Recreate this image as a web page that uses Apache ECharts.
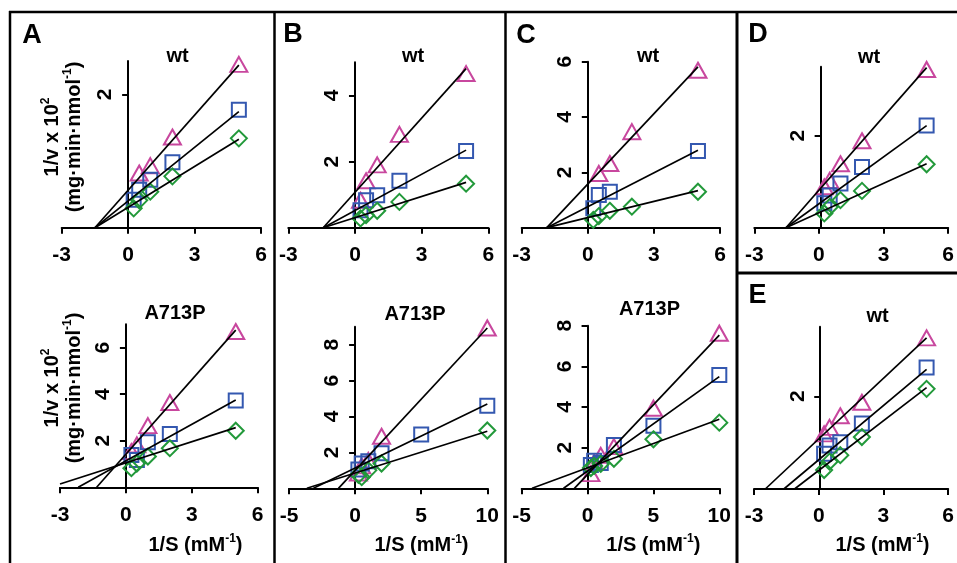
<!DOCTYPE html>
<html><head><meta charset="utf-8">
<script src="https://cdn.jsdelivr.net/npm/echarts@6/dist/echarts.min.js"></script>
<style>html,body{margin:0;padding:0;background:#fff}#c{width:957px;height:563px}</style>
</head><body><div id="c"></div>
<script>
// ---------------- data ----------------
const xShort = [0.25, 0.5, 1, 2, 5];
const xLong = [0.25, 0.5, 1, 2, 5, 10];

const aWtTri = [null, 0.82, 0.93, 1.36, 2.45];
const aWtSq  = [0.42, 0.57, 0.72, 0.98, 1.77];
const aWtDia = [0.29, 0.41, 0.54, 0.77, 1.34];
const aMutTri = [1.53, 1.82, 2.65, 3.64, 6.69];
const aMutSq  = [1.39, 1.17, 1.94, 2.29, 3.73];
const aMutDia = [0.82, 1.02, 1.32, 1.68, 2.43];

const bWtTri = [0.83, 1.42, 1.90, 2.82, 4.66];
const bWtSq  = [0.53, 0.83, 0.98, 1.42, 2.32];
const bWtDia = [0.28, 0.38, 0.51, 0.78, 1.33];
const bMutTri = [0.85, 1.25, 1.55, 2.90, null, 8.93];
const bMutSq  = [1.05, 1.38, 1.50, 1.95, 3.00, 4.60];
const bMutDia = [0.75, 0.62, 1.00, 1.38, null, 3.22];

const cWtTri = [null, 1.96, 2.32, 3.47, 5.69];
const cWtSq  = [0.70, 1.18, 1.30, null, 2.77];
const cWtDia = [0.28, 0.42, 0.61, 0.76, 1.30];
const cMutTri = [0.72, 1.28, 1.62, 2.05, 3.94, 7.63];
const cMutSq  = [1.15, 1.35, 1.25, 2.13, 3.08, 5.58];
const cMutDia = [1.00, 1.10, 1.20, 1.45, 2.41, 3.23];

const dWtTri = [0.89, 1.03, 1.39, 1.89, 3.44];
const dWtSq  = [0.53, 0.70, 0.96, 1.32, 2.22];
const dWtDia = [0.31, 0.45, 0.60, 0.80, 1.38];

const eWtTri = [1.19, 1.33, 1.58, 1.87, 3.26];
const eWtSq  = [0.76, 0.94, 1.01, 1.41, 2.62];
const eWtDia = [0.41, 0.59, 0.73, 1.12, 2.16];

// fitted lines [slope, intercept] for triangle, square, diamond series
const aWtFit  = [[0.375, 0.563], [0.268, 0.40], [0.204, 0.306]];
const aMutFit = [[1.066, 1.42], [0.523, 1.135], [0.3025, 1.05]];
const bWtFit  = [[0.748, 1.07], [0.365, 0.52], [0.213, 0.305]];
const bMutFit = [[0.793, 1.00], [0.357, 1.125], [0.233, 0.85]];
const cWtFit  = [[0.847, 1.575], [0.408, 0.76], [0.195, 0.363]];
const cMutFit = [[0.685, 0.685], [0.465, 0.847], [0.239, 1.007]];
const dWtFit  = [[0.533, 0.815], [0.34, 0.52], [0.213, 0.326]];
const eWtFit  = [[0.436, 1.08], [0.39, 0.63], [0.357, 0.40]];

// axis ticks
const xTicks6 = [-3, 0, 3, 6];
const xTicks10 = [-5, 0, 5, 10];
const yTicks2 = [2];
const yTicks4 = [2, 4];
const yTicks6 = [2, 4, 6];
const yTicks8 = [2, 4, 6, 8];
const yMaxA1 = 2.5, yMaxA2 = 7, yMaxB1 = 5, yMaxB2 = 9, yMaxC1 = 6, yMaxC2 = 8, yMaxD = 3.5, yMaxE = 3.5;

// ---------------- layout ----------------
const FONT = 'Liberation Sans';
const COLORS = ['#c8479e', '#3458b0', '#22993a'];
const SYMBOLS = ['triangle', 'rect', 'diamond'];
const SIZES = [[17, 15], [14, 14], [16, 16]];

const panels = [
  {x: xShort, ys: [aWtTri, aWtSq, aWtDia], fits: aWtFit, xt: xTicks6, yt: yTicks2, ymax: yMaxA1, g: [61.7, 61, 199.3, 166.7]},
  {x: xShort, ys: [aMutTri, aMutSq, aMutDia], fits: aMutFit, xt: xTicks6, yt: yTicks6, ymax: yMaxA2, g: [60, 324.3, 197.7, 163]},
  {x: xShort, ys: [bWtTri, bWtSq, bWtDia], fits: bWtFit, xt: xTicks6, yt: yTicks4, ymax: yMaxB1, g: [288.3, 62.3, 200, 165.4]},
  {x: xLong, ys: [bMutTri, bMutSq, bMutDia], fits: bMutFit, xt: xTicks10, yt: yTicks8, ymax: yMaxB2, g: [289, 326.7, 198.3, 161.6]},
  {x: xShort, ys: [cWtTri, cWtSq, cWtDia], fits: cWtFit, xt: xTicks6, yt: yTicks6, ymax: yMaxC1, g: [521.7, 61.7, 198.3, 166]},
  {x: xLong, ys: [cMutTri, cMutSq, cMutDia], fits: cMutFit, xt: xTicks10, yt: yTicks8, ymax: yMaxC2, g: [521.7, 325.7, 197.6, 162.6]},
  {x: xShort, ys: [dWtTri, dWtSq, dWtDia], fits: dWtFit, xt: xTicks6, yt: yTicks2, ymax: yMaxD, g: [754.3, 66.7, 199, 161]},
  {x: xShort, ys: [eWtTri, eWtSq, eWtDia], fits: eWtFit, xt: xTicks6, yt: yTicks2, ymax: yMaxE, g: [754, 326.7, 198.7, 162.3]}
];

const grids = [], xAxes = [], yAxes = [], series = [];
const axisLineStyle = {color: '#000', width: 2};
const labelFont = {color: '#000', fontFamily: FONT, fontWeight: 'bold', fontSize: 21};

panels.forEach((p, i) => {
  grids.push({left: p.g[0], top: p.g[1], width: p.g[2], height: p.g[3]});
  const xmin = p.xt[0], xmax = p.xt[p.xt.length - 1];
  // place the y axis at x = 0 of this panel's x scale
  const yOffset = -((0 - xmin) / (xmax - xmin)) * p.g[2];
  xAxes.push({
    type: 'value', gridIndex: i, min: xmin, max: xmax,
    axisLine: {show: true, onZero: false, lineStyle: axisLineStyle},
    axisTick: {show: true, length: 6, lineStyle: axisLineStyle, customValues: p.xt},
    axisLabel: Object.assign({margin: 17, customValues: p.xt}, labelFont),
    splitLine: {show: false}
  });
  yAxes.push({
    type: 'value', gridIndex: i, min: 0, max: p.ymax, offset: yOffset,
    axisLine: {show: true, onZero: false, lineStyle: axisLineStyle},
    axisTick: {show: true, length: 6, lineStyle: axisLineStyle, customValues: p.yt},
    axisLabel: Object.assign({margin: 12, rotate: 90, customValues: p.yt}, labelFont),
    splitLine: {show: false}
  });
  p.ys.forEach((ys, k) => {
    const pts = [];
    p.x.forEach((xv, j) => { if (ys[j] !== null) pts.push([xv, ys[j]]); });
    series.push({
      type: 'scatter', xAxisIndex: i, yAxisIndex: i, data: pts,
      symbol: SYMBOLS[k], symbolSize: SIZES[k], z: 2,
      itemStyle: {color: 'rgba(255,255,255,0)', borderColor: COLORS[k], borderWidth: 2, opacity: 1}
    });
    const m = p.fits[k][0], b = p.fits[k][1];
    const xEnd = Math.max.apply(null, pts.map(q => q[0]));
    const xStart = Math.max(xmin, -b / m);
    series.push({
      type: 'line', xAxisIndex: i, yAxisIndex: i, symbol: 'none', z: 3, silent: true,
      data: [[xStart, m * xStart + b], [xEnd, m * xEnd + b]],
      lineStyle: {color: '#000', width: 1.7}
    });
  });
});

function txt(x, y, text, size, rot, rich) {
  const st = {text: text, fontFamily: FONT, fontWeight: 'bold', fontSize: size, fill: '#000',
    textAlign: 'center', textVerticalAlign: 'middle', lineHeight: size + 4};
  if (rich) st.rich = {s: {fontFamily: FONT, fontWeight: 'bold', fontSize: 12, verticalAlign: 'top', lineHeight: size + 4, fill: '#000'}};
  return {type: 'text', x: x, y: y, rotation: rot || 0, style: st, z: 10};
}
function ln(x1, y1, x2, y2, w) {
  return {type: 'line', shape: {x1: x1, y1: y1, x2: x2, y2: y2}, style: {stroke: '#000', lineWidth: w}, z: 10};
}

const graphics = [
  ln(9, 12, 957, 12, 2.5),
  ln(10, 11, 10, 563, 2.5),
  ln(274.5, 11, 274.5, 563, 2.5),
  ln(505.5, 11, 505.5, 563, 2.5),
  ln(737, 11, 737, 563, 3),
  ln(737, 273, 957, 273, 3),
  txt(32, 36, 'A', 27), txt(293, 35, 'B', 27), txt(526, 36, 'C', 27), txt(758, 35, 'D', 27), txt(757.5, 296, 'E', 27),
  txt(177.5, 56, 'wt', 20), txt(413, 56, 'wt', 20), txt(648, 56, 'wt', 20), txt(869, 57.5, 'wt', 20), txt(877.5, 316, 'wt', 20),
  txt(175, 313, 'A713P', 20), txt(415, 314, 'A713P', 20), txt(649.5, 309, 'A713P', 20),
  txt(195.5, 545, '1/S (mM{s|-1})', 20, 0, true), txt(421.5, 545.5, '1/S (mM{s|-1})', 20, 0, true),
  txt(653.3, 545, '1/S (mM{s|-1})', 20, 0, true), txt(882.5, 545, '1/S (mM{s|-1})', 20, 0, true),
  txt(52, 137, '1/v x 10{s|2}', 20, Math.PI / 2, true), txt(74, 137, '(mg·min·nmol{s|-1})', 20, Math.PI / 2, true),
  txt(52, 388, '1/v x 10{s|2}', 20, Math.PI / 2, true), txt(74, 388, '(mg·min·nmol{s|-1})', 20, Math.PI / 2, true)
];

const chart = echarts.init(document.getElementById('c'), null, {renderer: 'canvas'});
chart.setOption({
  animation: false, backgroundColor: '#fff',
  grid: grids, xAxis: xAxes, yAxis: yAxes, series: series, graphic: graphics
});
</script></body></html>
